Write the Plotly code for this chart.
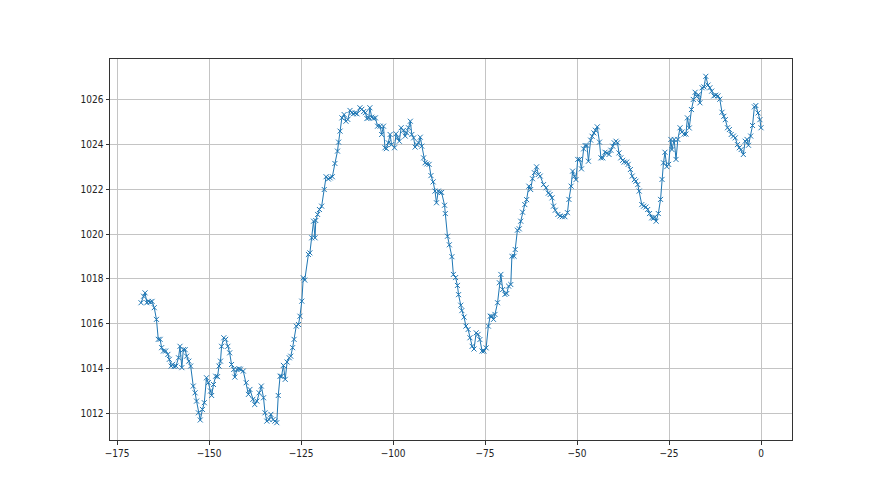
import plotly.graph_objects as go

hours = [
    -168.5, -167.8, -167.4, -166.9, -166.5, -166.0, -165.5, -164.9, -164.3, -163.8,
    -163.3, -162.9, -162.4, -161.8, -161.2, -160.8, -160.3, -159.9, -159.5, -159.0,
    -158.3, -157.9, -157.4, -157.0, -156.5, -156.1, -155.5, -155.0, -154.3, -153.8,
    -153.4, -152.9, -152.4, -151.8, -151.3, -150.7, -150.2, -149.6, -149.3, -148.8,
    -148.2, -147.7, -147.3, -146.9, -146.6, -146.0, -145.5, -144.9, -144.4, -143.9,
    -143.3, -143.0, -142.4, -141.9, -141.5, -140.7, -139.9, -139.3, -138.9, -138.1,
    -137.6, -137.0, -136.4, -135.8, -135.2, -134.8, -134.3, -133.7, -133.2, -132.6,
    -132.1, -131.6, -131.2, -130.7, -130.3, -129.8, -129.3, -128.8, -128.2, -127.8,
    -127.3, -126.9, -126.3, -125.7, -125.3, -124.8, -124.4, -124.0, -123.0, -122.6,
    -122.1, -121.6, -121.2, -121.0, -120.5, -120.0, -119.4, -118.7, -118.2, -117.6,
    -117.1, -116.5, -115.8, -115.1, -114.8, -114.4, -113.9, -113.3, -112.8, -112.3,
    -111.7, -111.2, -110.8, -110.3, -109.8, -109.0, -108.5, -108.0, -107.5, -107.1,
    -106.6, -106.3, -105.8, -105.4, -104.8, -104.2, -103.5, -103.1, -102.6, -102.2,
    -101.8, -101.3, -100.8, -100.4, -99.6, -99.2, -98.8, -98.3, -97.8, -97.2,
    -96.7, -96.3, -95.8, -95.3, -94.9, -94.4, -94.0, -93.5, -93.1, -92.6,
    -92.2, -91.7, -91.3, -90.8, -90.2, -89.7, -89.1, -88.6, -88.2, -87.7,
    -87.3, -86.8, -86.0, -85.8, -85.2, -84.7, -84.0, -83.6, -83.0, -82.5,
    -82.2, -81.6, -81.3, -80.7, -80.2, -79.6, -79.1, -78.5, -78.0, -77.4,
    -76.9, -76.4, -75.8, -75.3, -74.7, -74.1, -73.6, -73.2, -72.7, -72.3,
    -71.6, -71.1, -70.7, -70.2, -69.6, -69.1, -68.6, -68.0, -67.7, -67.1,
    -66.8, -66.2, -65.7, -65.3, -64.8, -64.2, -63.7, -63.1, -62.6, -62.1,
    -61.6, -61.0, -60.5, -60.0, -59.1, -58.4, -57.8, -57.3, -56.8, -56.4,
    -55.9, -55.2, -54.6, -54.0, -53.3, -52.6, -52.2, -51.6, -51.2, -50.7,
    -50.3, -49.8, -49.3, -48.8, -48.2, -47.8, -47.3, -46.9, -46.3, -45.9,
    -45.4, -45.0, -44.5, -43.9, -43.5, -43.0, -42.4, -41.9, -41.3, -40.8,
    -40.3, -39.9, -39.4, -39.0, -38.6, -38.1, -37.6, -37.2, -36.5, -36.1,
    -35.5, -35.0, -34.4, -34.0, -33.5, -33.1, -32.4, -31.9, -31.3, -30.8,
    -30.3, -29.7, -29.2, -28.9, -28.5, -27.9, -27.3, -26.9, -26.5, -26.1,
    -25.6, -25.1, -24.5, -24.2, -23.6, -23.1, -22.6, -22.0, -21.5, -20.9,
    -20.4, -20.0, -19.5, -18.9, -18.4, -17.9, -17.5, -17.0, -16.6, -16.0,
    -15.5, -15.0, -14.4, -13.9, -13.4, -12.8, -12.3, -11.7, -11.2, -10.6,
    -10.1, -9.7, -9.1, -8.6, -8.1, -7.5, -7.0, -6.4, -5.9, -5.4,
    -4.8, -4.3, -3.8, -3.4, -2.8, -2.3, -1.8, -1.4, -0.8, -0.3,
    0.0,
]

pressure = [
    1016.94, 1017.23, 1017.38, 1016.94, 1017.00, 1016.97, 1017.00, 1016.72, 1016.20, 1015.31,
    1015.31, 1014.94, 1014.79, 1014.79, 1014.64, 1014.42, 1014.12, 1014.20, 1014.10, 1014.12,
    1014.49, 1015.00, 1014.05, 1014.85, 1014.85, 1014.56, 1014.34, 1014.12, 1013.23, 1012.93,
    1012.56, 1012.04, 1011.72, 1012.19, 1012.49, 1013.60, 1013.38, 1013.01, 1012.81, 1013.30,
    1013.67, 1013.65, 1014.12, 1014.34, 1015.00, 1015.38, 1015.31, 1015.00, 1014.71, 1014.19,
    1013.97, 1013.63, 1013.97, 1014.00, 1013.98, 1013.90, 1013.38, 1012.86, 1013.08, 1012.64,
    1012.41, 1012.56, 1012.93, 1013.23, 1012.71, 1012.04, 1011.67, 1011.74, 1011.97, 1011.74,
    1011.67, 1011.60, 1012.81, 1013.67, 1013.67, 1014.15, 1013.53, 1014.30, 1014.49, 1014.56,
    1014.94, 1015.31, 1015.90, 1015.97, 1016.34, 1017.01, 1018.05, 1017.95, 1019.09, 1019.16,
    1019.83, 1020.57, 1019.83, 1020.60, 1020.87, 1021.09, 1021.24, 1021.98, 1022.55, 1022.45,
    1022.50, 1022.55, 1023.14, 1023.69, 1024.09, 1024.58, 1025.17, 1025.32, 1025.02, 1025.10,
    1025.50, 1025.40, 1025.35, 1025.38, 1025.35, 1025.62, 1025.55, 1025.45, 1025.40, 1025.14,
    1025.17, 1025.62, 1025.20, 1025.15, 1025.17, 1024.80, 1024.80, 1024.43, 1024.80, 1023.84,
    1023.80, 1024.06, 1024.43, 1023.98, 1023.84, 1024.46, 1024.28, 1024.13, 1024.73, 1024.61,
    1024.36, 1024.50, 1024.73, 1025.02, 1024.43, 1024.28, 1023.87, 1023.98, 1024.06, 1024.31,
    1023.91, 1023.39, 1023.17, 1023.12, 1023.10, 1022.60, 1022.32, 1021.91, 1021.39, 1021.91,
    1021.85, 1021.85, 1021.28, 1020.91, 1019.90, 1019.52, 1018.99, 1018.20, 1018.06, 1017.71,
    1017.30, 1016.83, 1016.59, 1016.30, 1015.90, 1015.75, 1015.38, 1015.00, 1014.88, 1015.60,
    1015.53, 1015.30, 1014.79, 1014.79, 1014.93, 1015.90, 1016.34, 1016.34, 1016.20, 1016.42,
    1016.94, 1017.83, 1018.20, 1017.53, 1017.31, 1017.35, 1017.68, 1017.75, 1019.01, 1019.01,
    1019.31, 1020.17, 1020.23, 1020.57, 1020.97, 1021.31, 1021.53, 1022.13, 1021.98, 1022.46,
    1022.73, 1022.99, 1022.65, 1022.58, 1022.20, 1022.06, 1021.82, 1021.76, 1021.61, 1021.24,
    1021.06, 1020.87, 1020.80, 1020.77, 1020.77, 1020.95, 1021.54, 1022.13, 1022.80, 1022.57,
    1022.42, 1023.32, 1023.32, 1022.90, 1023.79, 1023.94, 1023.94, 1023.24, 1024.18, 1024.35,
    1024.50, 1024.62, 1024.77, 1024.09, 1023.39, 1023.39, 1023.64, 1023.61, 1023.54, 1023.73,
    1023.91, 1024.06, 1024.13, 1024.06, 1023.61, 1023.39, 1023.28, 1023.20, 1023.20, 1023.10,
    1022.87, 1022.58, 1022.42, 1022.35, 1022.20, 1021.91, 1021.31, 1021.24, 1021.20, 1021.09,
    1020.91, 1020.72, 1020.70, 1020.75, 1020.57, 1020.91, 1021.54, 1022.43, 1023.17, 1023.64,
    1023.00, 1023.10, 1024.21, 1023.76, 1024.21, 1023.32, 1024.21, 1024.73, 1024.54, 1024.45,
    1024.45, 1025.17, 1024.72, 1025.54, 1025.99, 1026.31, 1026.12, 1026.20, 1025.84, 1026.51,
    1026.55, 1027.02, 1026.63, 1026.51, 1026.36, 1026.15, 1026.18, 1026.15, 1026.00, 1025.42,
    1025.24, 1025.09, 1024.73, 1024.65, 1024.43, 1024.36, 1024.28, 1023.98, 1023.84, 1023.76,
    1023.54, 1024.13, 1024.21, 1023.95, 1024.36, 1024.83, 1025.66, 1025.72, 1025.39, 1025.09,
    1024.73,
]

x_ticks = [-175, -150, -125, -100, -75, -50, -25, 0]
y_ticks = [1012, 1014, 1016, 1018, 1020, 1022, 1024, 1026]

color = "#1f77b4"

fig = go.Figure()
fig.add_trace(go.Scatter(
    x=hours, y=pressure, mode="lines+markers",
    line=dict(color=color, width=1),
    marker=dict(symbol="x-thin", size=5, line=dict(color=color, width=1), color=color),
    showlegend=False,
))

xmin, xmax = min(hours), max(hours)
ymin, ymax = min(pressure), max(pressure)
dx = xmax - xmin
dy = ymax - ymin

axis_common = dict(
    showgrid=True, gridcolor="#c4c4c4", gridwidth=0.8,
    showline=True, linecolor="#333333", linewidth=1, mirror=True,
    ticks="outside", ticklen=3.5, tickwidth=0.8, tickcolor="#333333",
    zeroline=False,
    tickfont=dict(family="Liberation Sans Narrow, DejaVu Sans Condensed, sans-serif",
                  size=10, color="#222222"),
)

# the page body adds an 8px offset; margins compensate for it
fig.update_layout(
    width=880, height=495,
    margin=dict(l=102, r=96, t=51, b=63),
    paper_bgcolor="white", plot_bgcolor="white",
    xaxis=dict(range=[xmin - 0.05 * dx, xmax + 0.05 * dx], tickvals=x_ticks,
               ticktext=["\u2212" + str(-v) if v < 0 else str(v) for v in x_ticks],
               **axis_common),
    yaxis=dict(range=[ymin - 0.05 * dy, ymax + 0.05 * dy], tickvals=y_ticks, **axis_common),
)

fig.write_html("out.html")
